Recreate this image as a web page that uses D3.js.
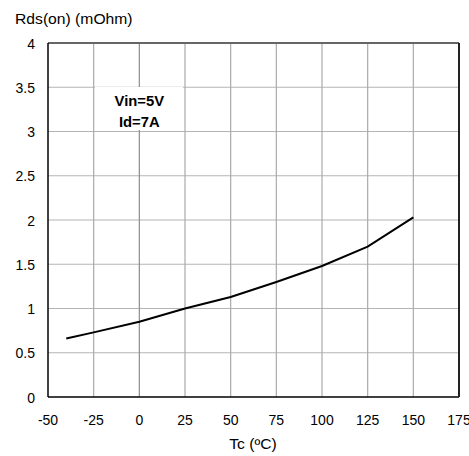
<!DOCTYPE html>
<html><head><meta charset="utf-8">
<script src="https://cdn.jsdelivr.net/npm/d3@7"></script>
<style>body{margin:0;background:#fff}svg text{font-family:"Liberation Sans",Arial,sans-serif;}</style>
</head><body>
<svg id="c" width="469" height="456"></svg>
<script>
const temps = [-40, -25, 0, 25, 50, 75, 100, 125, 150];
const rdson = [0.66, 0.73, 0.85, 1.0, 1.13, 1.30, 1.48, 1.70, 2.03];
const xTicks = [-50, -25, 0, 25, 50, 75, 100, 125, 150, 175];
const yTicks = [0, 0.5, 1, 1.5, 2, 2.5, 3, 3.5, 4];
const annot = ["Vin=5V", "Id=7A"];

const svg = d3.select("#c");
const L = 48, R = 459, T = 43, B = 397;
const x = d3.scaleLinear().domain([-50, 175]).range([L, R]);
const y = d3.scaleLinear().domain([0, 4]).range([B, T]);

// grid
svg.append("g").selectAll("line").data(yTicks.slice(1, -1)).join("line")
  .attr("x1", L).attr("x2", R).attr("y1", d => y(d)).attr("y2", d => y(d))
  .attr("stroke", "#b4b4b4").attr("stroke-width", 1.2);
svg.append("g").selectAll("line").data(xTicks.slice(1, -1)).join("line")
  .attr("y1", T).attr("y2", B).attr("x1", d => x(d)).attr("x2", d => x(d))
  .attr("stroke", d => d === 0 ? "#8c8c8c" : "#aaaaaa").attr("stroke-width", 1.2);

// annotation box
svg.append("rect").attr("x", 95).attr("y", 87).attr("width", 88).attr("height", 43).attr("fill", "#fff");
svg.append("g").selectAll("text").data(annot).join("text")
  .attr("transform", (d, i) => `translate(${x(0)},${106 + i * 21}) scale(1.06,1)`)
  .attr("text-anchor", "middle").attr("font-size", 14).attr("font-weight", "bold").text(d => d);

// frame
svg.append("line").attr("x1", L).attr("x2", R).attr("y1", T).attr("y2", T).attr("stroke", "#666").attr("stroke-width", 2);
svg.append("line").attr("x1", L).attr("x2", L).attr("y1", T).attr("y2", B).attr("stroke", "#000").attr("stroke-width", 1.5);
svg.append("line").attr("x1", L).attr("x2", R).attr("y1", B).attr("y2", B).attr("stroke", "#000").attr("stroke-width", 1.5);
svg.append("line").attr("x1", R).attr("x2", R).attr("y1", T).attr("y2", B).attr("stroke", "#222").attr("stroke-width", 2);

// curve
const line = d3.line().x((d, i) => x(temps[i])).y(d => y(d));
svg.append("path").datum(rdson).attr("d", line).attr("fill", "none").attr("stroke", "#000").attr("stroke-width", 2);

// tick labels
svg.append("g").selectAll("text").data(yTicks).join("text")
  .attr("x", 35).attr("y", d => y(d) + 5.5).attr("text-anchor", "end").attr("font-size", 14).text(d => d);
svg.append("g").selectAll("text").data(xTicks).join("text")
  .attr("x", d => x(d)).attr("y", 425).attr("text-anchor", "middle").attr("font-size", 14).text(d => d);

// titles
svg.append("text").attr("transform", "translate(15,24) scale(1.12,1)").attr("font-size", 14).text("Rds(on) (mOhm)");
svg.append("text").attr("transform", "translate(253,449) scale(1.12,1)").attr("text-anchor", "middle").attr("font-size", 14).text("Tc (ºC)");
</script>
</body></html>
